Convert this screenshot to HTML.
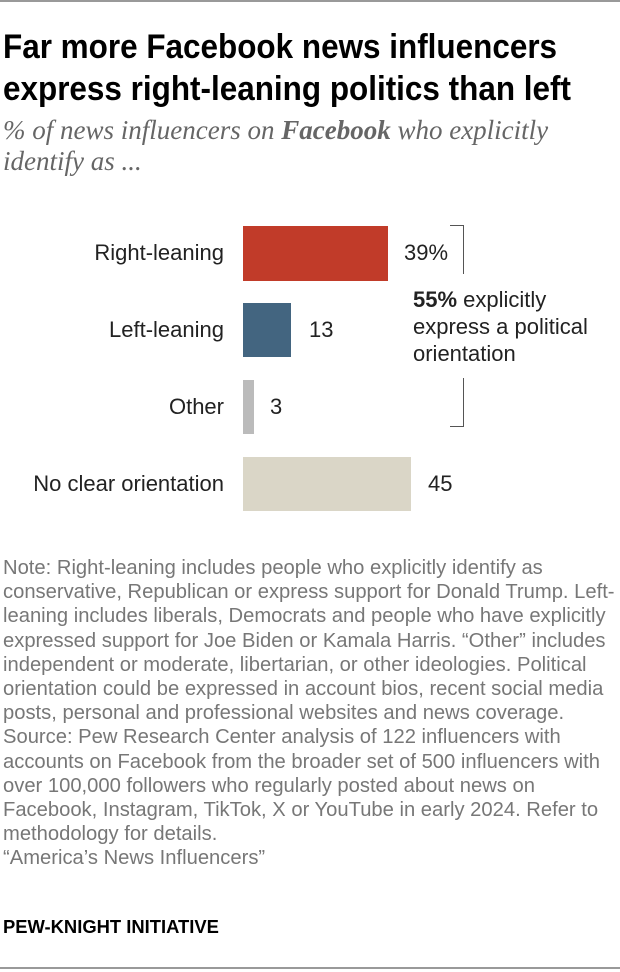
<!DOCTYPE html>
<html><head><style>
body{margin:0;width:620px;height:972px;background:#fff;position:relative;font-family:"Liberation Sans",sans-serif;overflow:hidden}
.a{position:absolute}
.t{left:3px;top:26px;font-weight:bold;font-size:34px;line-height:42px;color:#000;transform:scaleX(0.925);transform-origin:0 0;white-space:nowrap}
.s{left:3px;top:115px;font-family:"Liberation Serif",serif;font-style:italic;font-size:27px;line-height:31px;color:#666;white-space:nowrap}
.lbl{font-size:22px;color:#222;text-align:right;width:224px;left:0}
.v{font-size:22px;color:#222}
.n{left:3px;top:556px;font-size:20.2px;line-height:24.2px;color:#777;white-space:nowrap}
</style></head><body>
<div class="a" style="left:0;top:0;width:620px;height:2px;background:#999"></div>
<div class="a t">Far more Facebook news influencers<br>express right-leaning politics than left</div>
<div class="a s">% of news influencers on <b>Facebook</b> who explicitly<br>identify as ...</div>

<div class="a lbl" style="top:240px">Right-leaning</div>
<div class="a" style="left:243px;top:226px;width:145px;height:55px;background:#c13b29"></div>
<div class="a v" style="left:404px;top:240px">39%</div>

<div class="a lbl" style="top:317px">Left-leaning</div>
<div class="a" style="left:243px;top:303px;width:48px;height:54px;background:#436580"></div>
<div class="a v" style="left:309px;top:317px">13</div>

<div class="a lbl" style="top:394px">Other</div>
<div class="a" style="left:243px;top:380px;width:11px;height:54px;background:#bbb"></div>
<div class="a v" style="left:270px;top:394px">3</div>

<div class="a lbl" style="top:471px">No clear orientation</div>
<div class="a" style="left:243px;top:457px;width:168px;height:54px;background:#dad6c7"></div>
<div class="a v" style="left:428px;top:471px">45</div>

<div class="a" style="left:450px;top:225px;width:13px;height:48px;border-top:1px solid #555;border-right:1px solid #555"></div>
<div class="a" style="left:450px;top:378px;width:13px;height:48px;border-bottom:1px solid #555;border-right:1px solid #555"></div>
<div class="a" style="left:413px;top:286px;font-size:22px;line-height:27px;color:#222;white-space:nowrap"><b>55%</b> explicitly<br>express a political<br>orientation</div>

<div class="a n">Note: Right-leaning includes people who explicitly identify as<br>conservative, Republican or express support for Donald Trump. Left-<br>leaning includes liberals, Democrats and people who have explicitly<br>expressed support for Joe Biden or Kamala Harris. “Other” includes<br>independent or moderate, libertarian, or other ideologies. Political<br>orientation could be expressed in account bios, recent social media<br>posts, personal and professional websites and news coverage.<br>Source: Pew Research Center analysis of 122 influencers with<br>accounts on Facebook from the broader set of 500 influencers with<br>over 100,000 followers who regularly posted about news on<br>Facebook, Instagram, TikTok, X or YouTube in early 2024. Refer to<br>methodology for details.<br>“America’s News Influencers”</div>
<div class="a" style="left:3px;top:916px;font-size:18.4px;font-weight:bold;color:#000">PEW-KNIGHT INITIATIVE</div>
<div class="a" style="left:0;top:967px;width:620px;height:2px;background:#999"></div>
</body></html>
